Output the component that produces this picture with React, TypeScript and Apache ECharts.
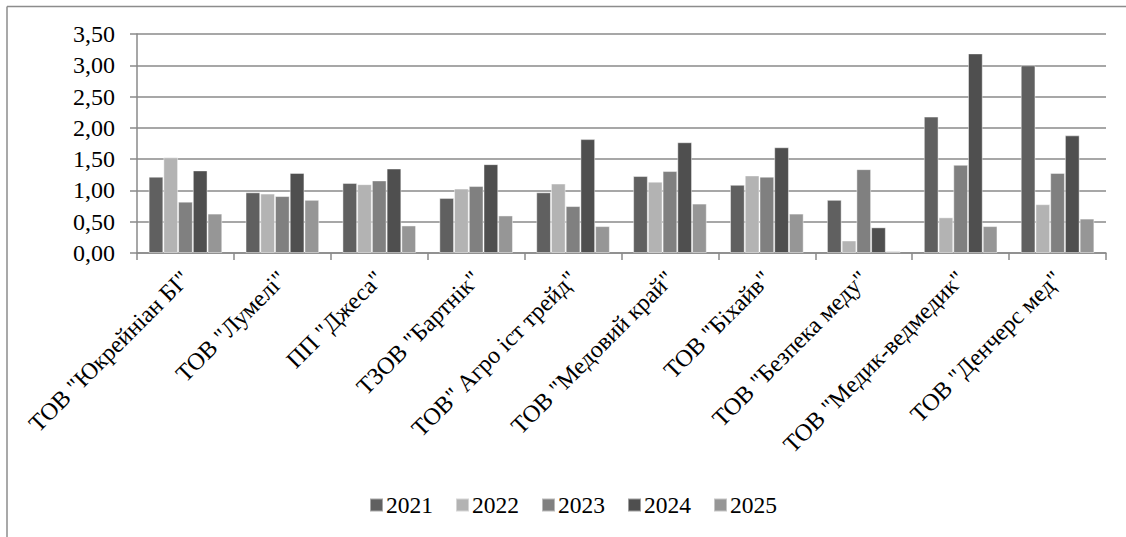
import React, { useEffect, useRef } from "react";
import * as echarts from "echarts";

const categories = [
  'ТОВ "Юкрейніан БІ"',
  'ТОВ "Лумелі"',
  'ПП "Джеса"',
  'ТЗОВ "Бартнік"',
  'ТОВ" Агро іст трейд"',
  'ТОВ "Медовий край"',
  'ТОВ "Біхайв"',
  'ТОВ "Безпека меду"',
  'ТОВ "Медик-ведмедик"',
  'ТОВ "Денчерс мед"',
];

const years = ["2021", "2022", "2023", "2024", "2025"];

const v2021 = [1.22, 0.97, 1.12, 0.88, 0.97, 1.23, 1.09, 0.85, 2.18, 3.0];
const v2022 = [1.53, 0.95, 1.1, 1.03, 1.11, 1.14, 1.24, 0.2, 0.57, 0.78];
const v2023 = [0.82, 0.91, 1.16, 1.07, 0.75, 1.31, 1.22, 1.34, 1.41, 1.28];
const v2024 = [1.32, 1.28, 1.35, 1.42, 1.82, 1.77, 1.69, 0.41, 3.19, 1.88];
const v2025 = [0.63, 0.85, 0.44, 0.6, 0.43, 0.79, 0.63, 0.03, 0.43, 0.55];

const seriesValues = [v2021, v2022, v2023, v2024, v2025];
const colors = ["#606060", "#b3b3b3", "#808080", "#4f4f4f", "#969696"];

const FONT = "Liberation Serif";
const GRID = "#8a8a8a";

export default function App() {
  const ref = useRef<HTMLDivElement>(null);

  useEffect(() => {
    document.body.style.margin = "0";
    document.body.style.overflow = "hidden";
    if (!ref.current) return;
    const chart = echarts.init(ref.current, undefined, { renderer: "svg" });
    chart.setOption({
      animation: false,
      backgroundColor: "#ffffff",
      color: colors,
      textStyle: { fontFamily: FONT, color: "#000" },
      graphic: [
        {
          type: "line",
          shape: { x1: 7, y1: 6.5, x2: 1200, y2: 6.5 },
          style: { stroke: "#8c8c8c", lineWidth: 1.5 },
          silent: true,
        },
        {
          type: "line",
          shape: { x1: 7, y1: 6.5, x2: 7, y2: 600 },
          style: { stroke: "#8c8c8c", lineWidth: 1.5 },
          silent: true,
        },
      ],
      grid: { left: 137, right: 20, top: 34, bottom: 284, containLabel: false },
      legend: {
        data: years,
        left: 364,
        top: 488,
        icon: "rect",
        itemWidth: 13,
        itemHeight: 13,
        itemGap: 22,
        textStyle: { fontFamily: FONT, fontSize: 23.5, color: "#000", padding: [0, 0, 0, -2] },
      },
      xAxis: {
        type: "category",
        data: categories,
        axisLine: { show: true, lineStyle: { color: GRID, width: 1.5 } },
        axisTick: { show: true, length: 7, lineStyle: { color: GRID, width: 1.5 } },
        axisLabel: {
          interval: 0,
          rotate: 45,
          margin: 22,
          fontFamily: FONT,
          fontSize: 24,
          color: "#000",
        },
      },
      yAxis: {
        type: "value",
        min: 0,
        max: 3.5,
        interval: 0.5,
        axisLine: { show: true, lineStyle: { color: GRID, width: 1.5 } },
        axisTick: { show: true, length: 7, lineStyle: { color: GRID, width: 1.5 } },
        splitLine: { show: true, lineStyle: { color: GRID, width: 1.5 } },
        axisLabel: {
          margin: 22,
          fontFamily: FONT,
          fontSize: 24,
          color: "#000",
          formatter: (v: number) => v.toFixed(2).replace(".", ","),
        },
      },
      series: years.map((y, i) => ({
        name: y,
        type: "bar",
        data: seriesValues[i],
        barGap: "0%",
        barCategoryGap: "24%",
        itemStyle: {
          color: colors[i],
          borderColor: "rgba(255,255,255,0.45)",
          borderWidth: 1,
        },
      })),
    });
    return () => chart.dispose();
  }, []);

  return <div ref={ref} style={{ width: 1126, height: 537 }} />;
}
